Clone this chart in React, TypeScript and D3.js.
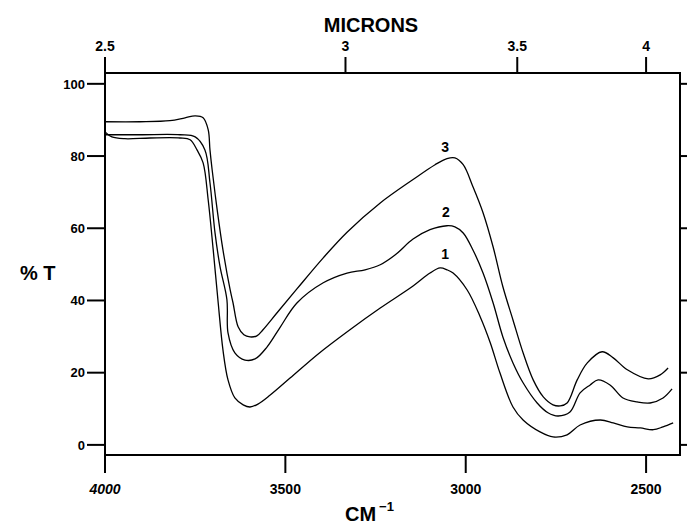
import React from "react";
import * as d3 from "d3";

const W = 687;
const H = 527;

// wavenumber (cm-1) ticks, bottom axis
const cmTicks = [4000, 3500, 3000, 2500];
// microns ticks, top axis
const micronTicks = [2.5, 3, 3.5, 4];
const micronLabels = ["2.5", "3", "3.5", "4"];
// %T ticks
const tTicks = [0, 20, 40, 60, 80, 100];

// curve 1: [cm-1, %T]
const curve1: [number, number][] = [
  [4000, 86.7], [3981, 85.3], [3945, 84.8], [3875, 85.0], [3792, 85.0], [3764, 84.5],
  [3745, 81.7], [3728, 78.1], [3714, 67.9], [3700, 54.0], [3687, 40.2], [3673, 26.3],
  [3659, 18.0], [3640, 13.0], [3617, 11.1], [3598, 10.5], [3576, 11.3], [3542, 13.8],
  [3487, 18.5], [3409, 25.2], [3321, 31.9], [3237, 37.9], [3146, 44.0], [3099, 47.6],
  [3071, 49.0], [3052, 48.5], [3035, 47.6], [2996, 42.9], [2960, 35.5], [2932, 28.3],
  [2905, 19.9], [2869, 10.5], [2841, 6.9], [2794, 3.6], [2758, 2.2], [2719, 2.8],
  [2683, 5.5], [2627, 6.9], [2591, 6.1], [2552, 5.0], [2516, 4.7], [2480, 4.2],
  [2453, 5.0], [2425, 6.1],
];

// curve 2
const curve2: [number, number][] = [
  [4000, 85.9], [3903, 85.9], [3792, 85.9], [3750, 85.3], [3723, 81.7], [3709, 72.6],
  [3695, 58.7], [3681, 49.3], [3662, 40.2], [3659, 31.0], [3640, 25.5], [3612, 23.5],
  [3584, 23.8], [3551, 27.1], [3515, 32.5], [3468, 39.3], [3395, 44.9], [3329, 47.6],
  [3279, 48.5], [3237, 49.9], [3196, 52.6], [3146, 57.0], [3099, 59.6], [3052, 60.7],
  [3030, 60.4], [3007, 58.7], [2980, 54.0], [2952, 47.6], [2924, 39.3], [2897, 29.9],
  [2869, 22.7], [2841, 17.2], [2802, 11.6], [2772, 8.9], [2744, 8.0], [2711, 9.1],
  [2683, 14.4], [2655, 16.6], [2633, 18.0], [2600, 16.6], [2564, 13.0], [2525, 11.9],
  [2489, 11.6], [2453, 13.0], [2428, 15.5],
];

// curve 3
const curve3: [number, number][] = [
  [4000, 89.5], [3903, 89.5], [3820, 89.8], [3778, 90.6], [3750, 91.1], [3728, 90.6],
  [3714, 87.3], [3709, 81.7], [3703, 76.2], [3689, 65.1], [3673, 54.0], [3653, 42.9],
  [3645, 39.3], [3631, 32.7], [3615, 30.5], [3598, 29.9], [3579, 30.2], [3562, 31.9],
  [3523, 36.6], [3468, 43.2], [3395, 51.8], [3329, 58.9], [3237, 67.0], [3146, 73.5],
  [3085, 77.6], [3052, 79.3], [3030, 79.5], [3007, 77.6], [2980, 71.5], [2952, 64.3],
  [2924, 54.8], [2897, 43.8], [2869, 34.6], [2841, 25.5], [2813, 18.0], [2785, 13.3],
  [2758, 11.1], [2738, 10.8], [2719, 11.6], [2691, 18.0], [2663, 22.7], [2622, 25.8],
  [2591, 24.1], [2552, 20.8], [2494, 18.3], [2461, 19.4], [2439, 21.3],
];

const series = [curve1, curve2, curve3];
const curveLabels = ["1", "2", "3"];
const labelAt: [number, number][] = [
  [3057, 51.5],
  [3055, 63],
  [3057, 81],
];

const FONT = "'Liberation Sans', Arial, sans-serif";

export default function App() {
  const x = d3.scaleLinear().domain([4000, 2406]).range([105, 680]);
  const y = d3.scaleLinear().domain([-2.8, 103]).range([455, 73]);
  const line = d3
    .line<[number, number]>()
    .x((d) => x(d[0]))
    .y((d) => y(d[1]))
    .curve(d3.curveCatmullRom.alpha(0.5));

  const x0 = x.range()[0];
  const x1 = x.range()[1];
  const yTop = y.range()[1];
  const yBot = y.range()[0];

  return (
    <svg
      width={W}
      height={H}
      style={{ position: "fixed", left: 0, top: 0, background: "#fff" }}
      fontFamily={FONT}
    >
      <rect x={0} y={0} width={W} height={H} fill="#fff" />
      {/* frame */}
      <rect x={x0} y={yTop} width={x1 - x0} height={yBot - yTop} fill="none" stroke="#000" strokeWidth={2} />

      {/* left ticks */}
      {tTicks.map((t) => (
        <g key={"l" + t}>
          <line x1={x0 - 18} x2={x0} y1={y(t)} y2={y(t)} stroke="#000" strokeWidth={2} />
          <text x={x0 - 20} y={y(t)} dy="0.36em" textAnchor="end" fontSize={13} fontWeight="bold">
            {t}
          </text>
          <line x1={x1} x2={x1 + 8} y1={y(t)} y2={y(t)} stroke="#000" strokeWidth={2} />
        </g>
      ))}

      {/* bottom ticks */}
      {cmTicks.map((c) => (
        <g key={"b" + c}>
          <line x1={x(c)} x2={x(c)} y1={yBot} y2={yBot + 18} stroke="#000" strokeWidth={2} />
          <text x={x(c)} y={yBot + 39} textAnchor="middle" fontSize={14} fontWeight="bold" fontStyle={c === 4000 ? "italic" : "normal"}>
            {c}
          </text>
        </g>
      ))}

      {/* top ticks */}
      {micronTicks.map((m, i) => (
        <g key={"t" + m}>
          <line x1={x(10000 / m)} x2={x(10000 / m)} y1={yTop} y2={yTop - 16} stroke="#000" strokeWidth={2} />
          <text x={x(10000 / m)} y={yTop - 22} textAnchor="middle" fontSize={14} fontWeight="bold">
            {micronLabels[i]}
          </text>
        </g>
      ))}

      {/* axis titles */}
      <text x={371} y={32} textAnchor="middle" fontSize={20} fontWeight="bold">
        MICRONS
      </text>
      <text x={20} y={280} fontSize={20} fontWeight="bold">
        % T
      </text>
      <text x={345} y={521} fontSize={20} fontWeight="bold">
        CM
        <tspan dx={3} dy={-10} fontSize={13}>
          −1
        </tspan>
      </text>

      {/* curves */}
      {series.map((s, i) => (
        <path key={"c" + i} d={line(s) || ""} fill="none" stroke="#000" strokeWidth={1.3} />
      ))}
      {series.map((s, i) => (
        <text key={"cl" + i} x={x(labelAt[i][0])} y={y(labelAt[i][1])} textAnchor="middle" fontSize={14} fontWeight="bold">
          {curveLabels[i]}
        </text>
      ))}
    </svg>
  );
}
